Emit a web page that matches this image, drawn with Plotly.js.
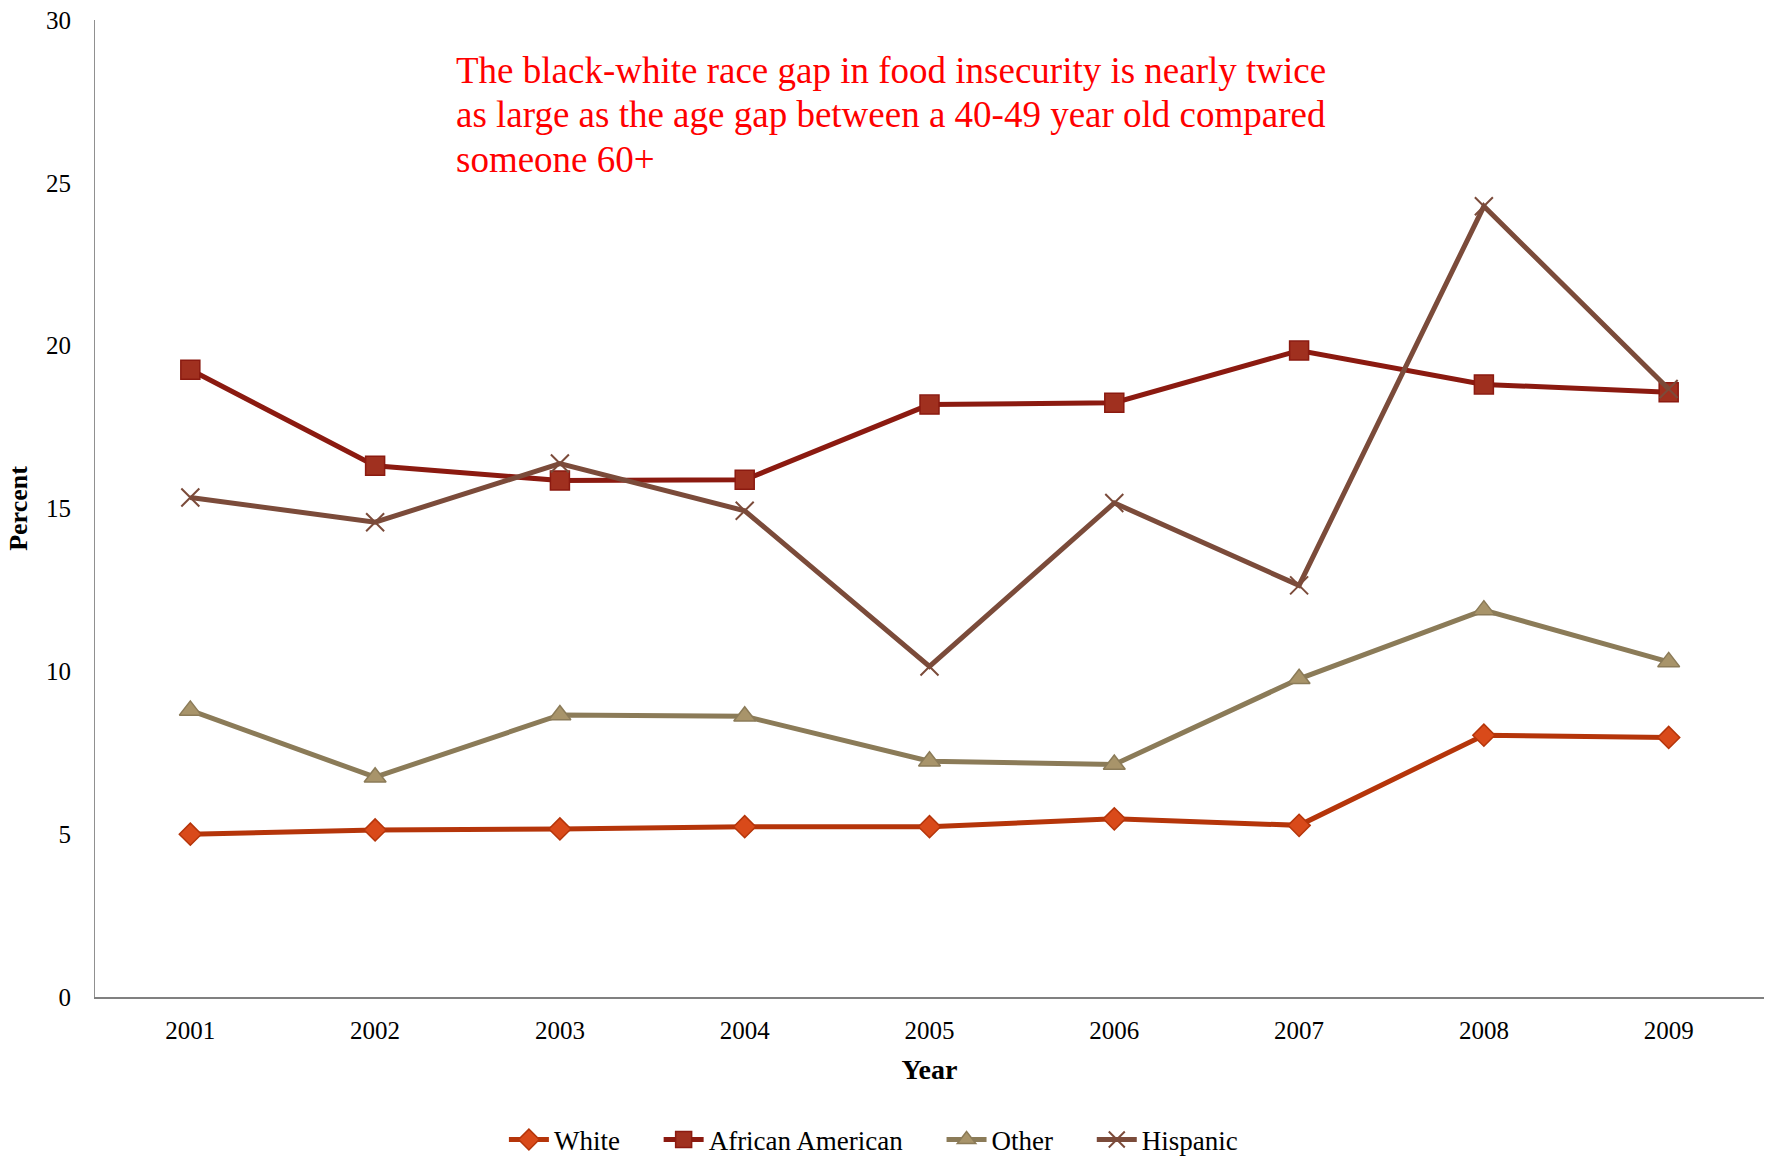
<!DOCTYPE html>
<html>
<head>
<meta charset="utf-8">
<script src="https://cdn.plot.ly/plotly-3.0.1.min.js"></script>
<style>html,body{margin:0;padding:0;background:#fff;}#chart{width:1769px;height:1157px;}</style>
</head>
<body>
<div id="chart"></div>
<script>
const years = ["2001","2002","2003","2004","2005","2006","2007","2008","2009"];
const white = [5.0, 5.13, 5.16, 5.23, 5.23, 5.47, 5.27, 8.04, 7.97];
const africanAmerican = [19.26, 16.31, 15.86, 15.88, 18.19, 18.25, 19.85, 18.81, 18.57];
const other = [8.8, 6.75, 8.66, 8.62, 7.24, 7.14, 9.77, 11.88, 10.29];
const hispanic = [15.34, 14.58, 16.38, 14.93, 10.15, 15.17, 12.64, 24.28, 18.67];
const yTicks = [0, 5, 10, 15, 20, 25, 30];
const noteLines = [
  "The black-white race gap in food insecurity is nearly twice",
  "as large as the age gap between a 40-49 year old compared",
  "someone 60+"
];

const serif = "Liberation Serif, Times New Roman, serif";
const gap = "\u00a0\u00a0\u00a0\u00a0\u00a0";

function tr(name, y, lineColor, markerColor, symbol, size) {
  return {
    type: "scatter", mode: "lines+markers", name: name, x: years, y: y,
    line: {color: lineColor, width: 5},
    marker: {symbol: symbol, size: size, color: markerColor,
             line: {color: lineColor, width: symbol === "x-thin" ? 2 : 1.5}}
  };
}

const data = [
  tr("White" + gap, white, "#B5350A", "#D94A1A", "diamond", 17),
  tr("African American" + gap, africanAmerican, "#8B1A10", "#A0301F", "square", 19),
  tr("Other" + gap, other, "#8B7B58", "#A8946A", "triangle-up", 19),
  tr("Hispanic", hispanic, "#7B4B3A", "#7B4B3A", "x-thin", 18)
];

const lineY = [0.948, 0.903, 0.857];
const annotations = noteLines.map((t, i) => ({
  xref: "paper", yref: "paper", x: 0.215, y: lineY[i], xanchor: "left", yanchor: "middle",
  align: "left", showarrow: false, text: t,
  font: {family: serif, size: 37, color: "#FF0000"}
}));

const layout = {
  width: 1769, height: 1157,
  margin: {l: 95, r: 5, t: 20, b: 160, autoexpand: false},
  paper_bgcolor: "#fff", plot_bgcolor: "#fff",
  font: {family: serif, color: "#000", size: 25},
  showlegend: true,
  legend: {orientation: "h", x: 0.245, xanchor: "left", xref: "paper",
           yref: "container", y: 0.0147, yanchor: "middle",
           font: {family: serif, size: 27, color: "#000"}, itemwidth: 40, tracegroupgap: 0},
  xaxis: {
    type: "category", showgrid: false, zeroline: false, ticks: "",
    showline: true, linecolor: "#808080", linewidth: 2,
    tickfont: {family: serif, size: 25}, ticklabelstandoff: 10,
    title: {text: "<b>Year</b>", font: {family: serif, size: 28}, standoff: 16}
  },
  yaxis: {
    range: [0, 30], tickvals: yTicks, ticktext: yTicks.map(String),
    showgrid: false, zeroline: false, ticks: "",
    showline: true, linecolor: "#909090", linewidth: 1.2,
    tickfont: {family: serif, size: 25}, ticklabelstandoff: 18,
    title: {text: "<b>Percent</b>", font: {family: serif, size: 26}, standoff: 10}
  },
  annotations: annotations
};

Plotly.newPlot("chart", data, layout, {displayModeBar: false});
</script>
</body>
</html>
